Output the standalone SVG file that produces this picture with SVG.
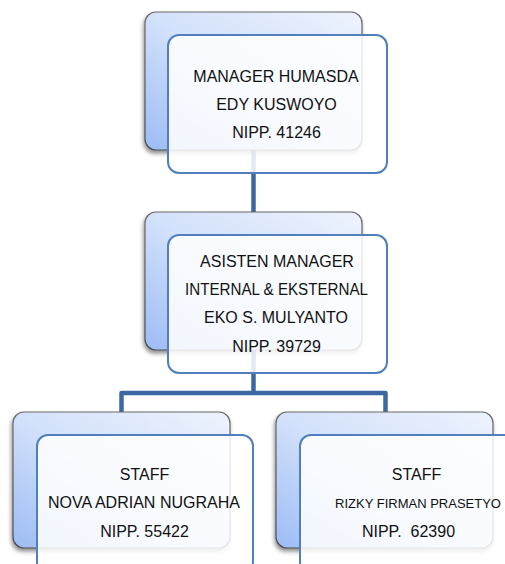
<svg xmlns="http://www.w3.org/2000/svg" width="505" height="564" viewBox="0 0 505 564">
<defs>
<linearGradient id="backGrad" x1="1" y1="0" x2="0" y2="1">
<stop offset="0" stop-color="#eef3fd"/>
<stop offset="0.5" stop-color="#d3e1fb"/>
<stop offset="1" stop-color="#9dbcf5"/>
</linearGradient>
<linearGradient id="backStroke" x1="0" y1="0" x2="0" y2="1">
<stop offset="0" stop-color="#6a6a6a"/>
<stop offset="1" stop-color="#4a4a4a"/>
</linearGradient>
<filter id="shadow" x="-10%" y="-10%" width="125%" height="130%">
<feGaussianBlur in="SourceAlpha" stdDeviation="2"/>
<feOffset dx="-1" dy="3" result="b"/>
<feComponentTransfer><feFuncA type="linear" slope="0.45"/></feComponentTransfer>
<feMerge><feMergeNode/><feMergeNode in="SourceGraphic"/></feMerge>
</filter>
</defs>
<style>
.back{fill:url(#backGrad);stroke:url(#backStroke);stroke-width:1.2;filter:url(#shadow)}
.front{fill:#ffffff;fill-opacity:0.86;stroke:#4f7fbd;stroke-width:2}
.conn{fill:none;stroke:#3d68a2;stroke-width:4.5;stroke-linejoin:round}
text{font-family:"Liberation Sans",Arial,sans-serif;font-size:16px;fill:#111111;text-anchor:middle}
.narrow{font-size:13px}
</style>
<g id="connectors">
<path class="conn" d="M253.5 150 V212"/>
<path class="conn" d="M253.5 350 V393"/>
<path class="conn" d="M121.5 412 V393 H385.5 V412"/>
</g>
<g id="node-manager">
<rect class="back" x="145" y="12" width="217" height="138" rx="11"/>
<rect class="front" x="168" y="35" width="219" height="138" rx="11"/>
<text x="276" y="82">MANAGER HUMASDA</text>
<text x="276.5" y="110">EDY KUSWOYO</text>
<text x="276.5" y="138">NIPP. 41246</text>
</g>
<g id="node-asisten">
<rect class="back" x="145" y="212" width="217" height="138" rx="11"/>
<rect class="front" x="168" y="235" width="219" height="138" rx="11"/>
<text x="277" y="267">ASISTEN MANAGER</text>
<text x="276.5" y="295" textLength="183" lengthAdjust="spacingAndGlyphs">INTERNAL &amp; EKSTERNAL</text>
<text x="276" y="323">EKO S. MULYANTO</text>
<text x="276.5" y="352">NIPP. 39729</text>
</g>
<g id="node-staff-nova">
<rect class="back" x="13" y="412" width="217" height="136" rx="11"/>
<rect class="front" x="37" y="435" width="216" height="138" rx="11"/>
<text x="144.5" y="480">STAFF</text>
<text x="144" y="508" textLength="192" lengthAdjust="spacingAndGlyphs">NOVA ADRIAN NUGRAHA</text>
<text x="144.5" y="537">NIPP. 55422</text>
</g>
<g id="node-staff-rizky">
<rect class="back" x="276" y="412" width="217" height="136" rx="11"/>
<rect class="front" x="300" y="435" width="217" height="138" rx="11"/>
<text x="416.5" y="480">STAFF</text>
<text class="narrow" x="418" y="508">RIZKY FIRMAN PRASETYO</text>
<text x="408.5" y="537" xml:space="preserve">NIPP.  62390</text>
</g>
</svg>
